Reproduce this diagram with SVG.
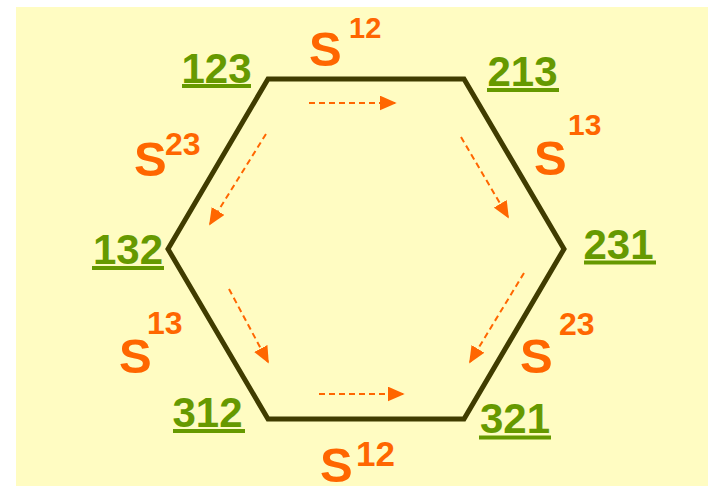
<svg xmlns="http://www.w3.org/2000/svg" width="708" height="486" viewBox="0 0 708 486">
<defs>
<style>
.lbl{font-family:"Liberation Sans",Arial,sans-serif;font-weight:bold;font-size:42px;fill:#669900;text-anchor:middle}
.ul{stroke:#669900;stroke-width:4}
.s{font-family:"Liberation Sans",Arial,sans-serif;font-weight:bold;fill:#FF6600}
.big{font-size:49px}
.sup{font-size:32px}
.arr{stroke:#FF6600;stroke-width:2;stroke-dasharray:6 4;fill:none;marker-end:url(#ah)}
</style>
<marker id="ah" viewBox="0 0 10 10" refX="9" refY="5" markerWidth="17" markerHeight="15" markerUnits="userSpaceOnUse" orient="auto" preserveAspectRatio="none">
<path d="M0,0 L10,5 L0,10 Z" fill="#FF6600"/>
</marker>
</defs>
<rect x="0" y="0" width="708" height="486" fill="#FFFFFF"/>
<rect x="16" y="7" width="692" height="479" fill="#FFFCC2"/>
<g id="hexagon">
<polygon points="268,79 464,79 564,249 464,419 268,419 168,249" fill="none" stroke="#403C00" stroke-width="5" stroke-linejoin="miter"/>
</g>
<g id="connectors">
<line class="arr" x1="309" y1="103" x2="395" y2="103"/>
<line class="arr" x1="319" y1="394" x2="403" y2="394"/>
<line class="arr" x1="266" y1="134" x2="210" y2="224"/>
<line class="arr" x1="461" y1="137" x2="508" y2="217"/>
<line class="arr" x1="229" y1="289" x2="268" y2="362"/>
<line class="arr" x1="524" y1="273" x2="470" y2="362"/>
</g>
<g id="n123"><text class="lbl" x="216.5" y="83">123</text><line class="ul" x1="182" y1="86" x2="251" y2="86"/></g>
<g id="n213"><text class="lbl" x="522.5" y="86">213</text><line class="ul" x1="487" y1="90" x2="559" y2="90"/></g>
<g id="n132"><text class="lbl" x="128" y="264">132</text><line class="ul" x1="92" y1="268" x2="164" y2="268"/></g>
<g id="n231"><text class="lbl" x="618.5" y="259">231</text><line class="ul" x1="584" y1="262.5" x2="656" y2="262.5"/></g>
<g id="n312"><text class="lbl" x="207.5" y="427">312</text><line class="ul" x1="173" y1="431" x2="245" y2="431"/></g>
<g id="n321"><text class="lbl" x="515" y="433">321</text><line class="ul" x1="479" y1="437.5" x2="551" y2="437.5"/></g>
<g id="s12top"><text class="s big" x="309" y="66">S</text><text class="s sup" x="349" y="38" style="font-size:29px">12</text></g>
<g id="s23left"><text class="s big" x="134" y="176">S</text><text class="s sup" x="165" y="155">23</text></g>
<g id="s13right"><text class="s big" x="534" y="175">S</text><text class="s sup" x="568" y="135" style="font-size:30px">13</text></g>
<g id="s13left"><text class="s big" x="119" y="373">S</text><text class="s sup" x="147" y="334">13</text></g>
<g id="s23right"><text class="s big" x="520" y="373">S</text><text class="s sup" x="559" y="335">23</text></g>
<g id="s12bottom"><text class="s big" x="320" y="482">S</text><text class="s sup" x="356" y="466" style="font-size:35px">12</text></g>
</svg>
